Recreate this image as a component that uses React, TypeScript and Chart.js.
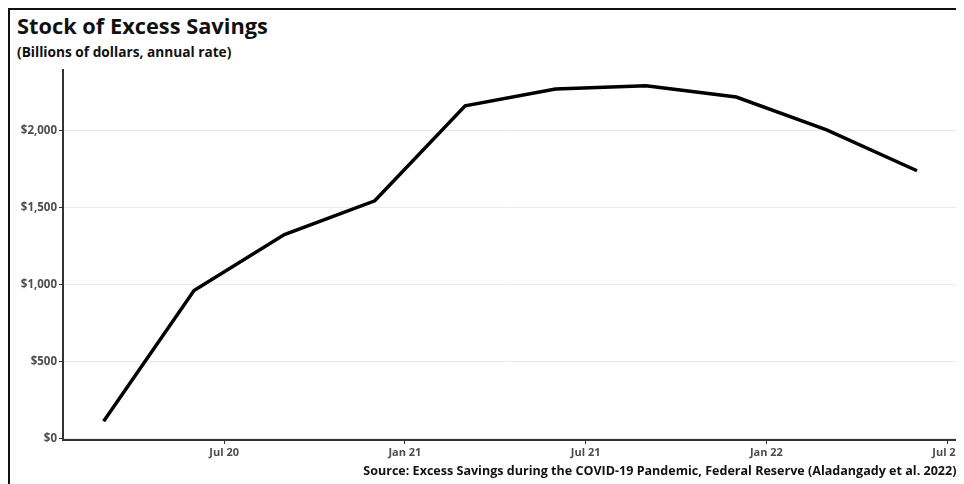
import React, { useEffect, useRef } from "react";
import { Chart, registerables } from "chart.js";

Chart.register(...registerables);

// Quarter positions in months since Jan 2020 (Mar 2020 … Jun 2022)
const quarterMonths = [2, 5, 8, 11, 14, 17, 20, 23, 26, 29];
// Stock of excess savings, billions of dollars
const excessSavings = [112, 961, 1325, 1545, 2162, 2271, 2292, 2219, 2006, 1740];

const xTickMonths = [6, 12, 18, 24, 30];
const xTickLabels = ["Jul 20", "Jan 21", "Jul 21", "Jan 22", "Jul 22"];
const yTickValues = [0, 500, 1000, 1500, 2000];

const FONT = "'Open Sans', 'Noto Sans', sans-serif";

export default function App() {
  const canvasRef = useRef<HTMLCanvasElement | null>(null);

  useEffect(() => {
    const canvas = canvasRef.current;
    if (!canvas) return;
    const chart = new Chart(canvas, {
      type: "line",
      data: {
        datasets: [
          {
            data: quarterMonths.map((m, i) => ({ x: m, y: excessSavings[i] })),
            borderColor: "#000",
            borderWidth: 3.5,
            pointRadius: 0,
            tension: 0,
            fill: false,
          },
        ],
      },
      options: {
        animation: false,
        responsive: false,
        maintainAspectRatio: false,
        layout: { padding: { top: 60, right: 4, bottom: 24, left: 0 } },
        plugins: {
          legend: { display: false },
          tooltip: { enabled: false },
          title: { display: false },
        },
        scales: {
          x: {
            type: "linear",
            min: 0.65,
            max: 30.35,
            afterBuildTicks: (scale: any) => {
              scale.ticks = xTickMonths.map((v) => ({ value: v }));
            },
            afterFit: (scale: any) => {
              scale.height = 20;
            },
            ticks: {
              autoSkip: false,
              maxRotation: 0,
              padding: 2,
              color: "#4d4d4d",
              font: { family: FONT, size: 11, weight: "bold" },
              callback: (v: any) => {
                const idx = xTickMonths.indexOf(Number(v));
                return idx >= 0 ? xTickLabels[idx] : "";
              },
            },
            grid: {
              drawOnChartArea: false,
              drawTicks: true,
              tickLength: 4,
              tickColor: "#333",
              tickWidth: 1,
            },
            border: { display: true, color: "#333", width: 2 },
          },
          y: {
            type: "linear",
            min: -10,
            max: 2395,
            afterBuildTicks: (scale: any) => {
              scale.ticks = yTickValues.map((v) => ({ value: v }));
            },
            afterFit: (scale: any) => {
              scale.width = 53;
            },
            ticks: {
              padding: 2,
              color: "#4d4d4d",
              font: { family: FONT, size: 11.5, weight: "bold" },
              callback: (v: any) => "$" + Number(v).toLocaleString("en-US"),
            },
            grid: {
              color: "#ebebeb",
              lineWidth: 1,
              drawTicks: true,
              tickLength: 4,
              tickColor: "#333",
            },
            border: { display: true, color: "#333", width: 2 },
          },
        },
      },
    });
    return () => chart.destroy();
  }, []);

  return (
    <div
      style={{
        position: "relative",
        width: 956,
        height: 476,
        boxSizing: "border-box",
        borderLeft: "2px solid #111",
        borderTop: "2px solid #111",
        background: "#fff",
        overflow: "hidden",
        fontFamily: FONT,
      }}
    >
      <div
        style={{
          position: "absolute",
          left: 7,
          top: 3,
          fontSize: 21.8,
          lineHeight: "26px",
          fontWeight: 700,
          color: "#111",
          whiteSpace: "nowrap",
        }}
      >
        Stock of Excess Savings
      </div>
      <div
        style={{
          position: "absolute",
          left: 7,
          top: 33,
          fontSize: 13.7,
          lineHeight: "18px",
          fontWeight: 700,
          color: "#111",
          whiteSpace: "nowrap",
        }}
      >
        (Billions of dollars, annual rate)
      </div>
      <canvas
        ref={canvasRef}
        width={954}
        height={474}
        style={{ position: "absolute", left: 0, top: 0, width: 954, height: 474 }}
      />
      <div
        style={{
          position: "absolute",
          right: 4,
          top: 452,
          fontSize: 12.55,
          lineHeight: "18px",
          fontWeight: 700,
          color: "#111",
          whiteSpace: "nowrap",
        }}
      >
        Source: Excess Savings during the COVID-19 Pandemic, Federal Reserve (Aladangady et al. 2022).
      </div>
    </div>
  );
}
